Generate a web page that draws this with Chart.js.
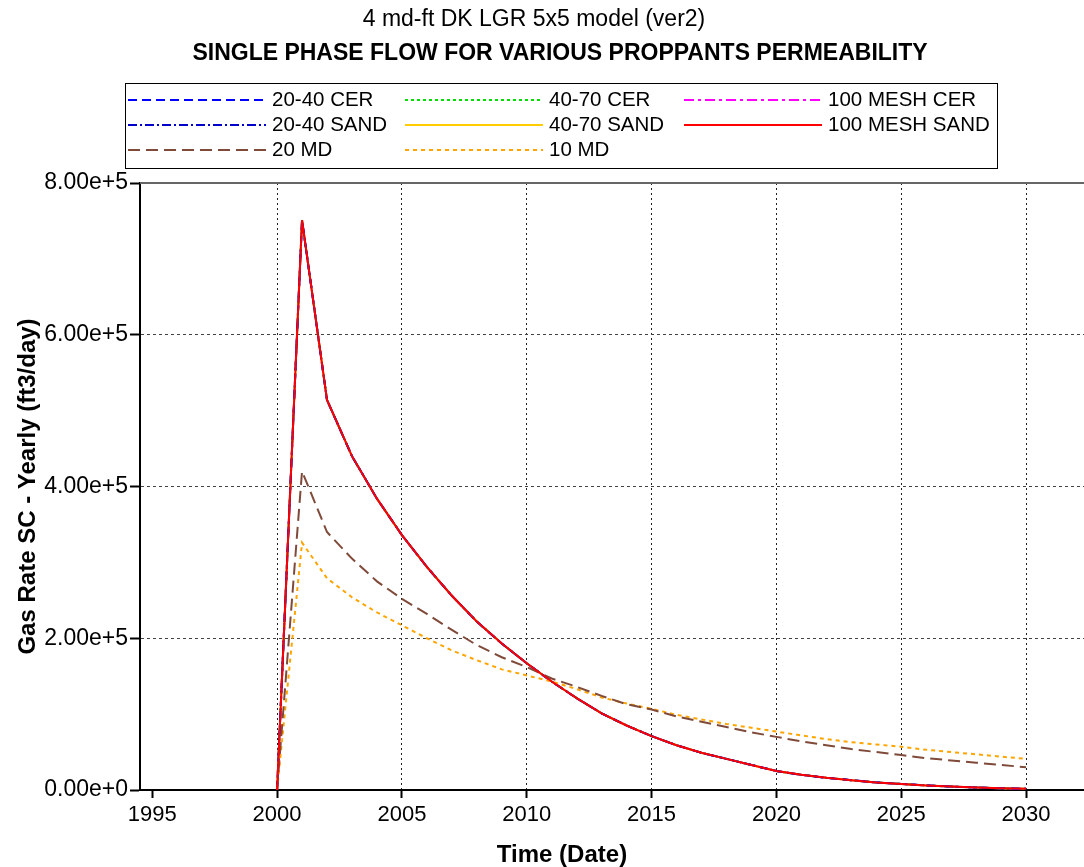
<!DOCTYPE html>
<html>
<head>
<meta charset="utf-8">
<title>Single phase flow - gas rate</title>
<script src="https://cdn.jsdelivr.net/npm/chart.js@4.4.1/dist/chart.umd.min.js"></script>
<style>
    html, body { margin: 0; padding: 0; background: #fff; }
    #wrap { width: 1084px; height: 867px; }
</style>
</head>
<body>
<div id="wrap"><canvas id="rateChart" width="1084" height="867"></canvas></div>
<script>
// Yearly gas rate (ft3/day), one value per year
const years = [2000, 2001, 2002, 2003, 2004, 2005, 2006, 2007, 2008, 2009, 2010,
    2011, 2012, 2013, 2014, 2015, 2016, 2017, 2018, 2019, 2020,
    2021, 2022, 2023, 2024, 2025, 2026, 2027, 2028, 2029, 2030];

// all six proppant cases come out practically identical
const proppantRate = [0, 751000, 514000, 440000, 384000, 336000, 294000, 256000, 222000, 193000, 167000,
    143000, 121000, 101000, 85000, 71000, 59000, 49000, 41000, 33000, 25000,
    20000, 16000, 13000, 10000, 8000, 6000, 4500, 3300, 2300, 1500];

const rate20md = [0, 420000, 340000, 305000, 275000, 252000, 232000, 211000, 191000, 175000, 162000,
    147000, 136000, 124000, 113000, 106000, 97000, 90000, 83000, 76000, 70000,
    64000, 59000, 54000, 50000, 46000, 42000, 39000, 36000, 33000, 30000];

const rate10md = [0, 326000, 279000, 254000, 234000, 217000, 200000, 184000, 171000, 159000, 151000,
    143000, 133000, 122000, 114000, 107000, 99000, 93000, 87000, 82000, 77000,
    72000, 67000, 63000, 60000, 57000, 53000, 50000, 47000, 44000, 41000];

const xTicks = [1995, 2000, 2005, 2010, 2015, 2020, 2025, 2030];
const yTicks = [0, 200000, 400000, 600000, 800000];

const FONT = '"Liberation Sans", Arial, sans-serif';

const series = [
    { label: '20-40 CER', data: proppantRate, color: '#0000ff', dash: [9, 5], order: 2 },
    { label: '20-40 SAND', data: proppantRate, color: '#0000c8', dash: [9, 3, 2, 3], order: 2 },
    { label: '40-70 CER', data: proppantRate, color: '#00e000', dash: [3, 3], order: 2 },
    { label: '40-70 SAND', data: proppantRate, color: '#ffcc00', dash: [], order: 2 },
    { label: '100 MESH CER', data: proppantRate, color: '#ff00ff', dash: [10, 4, 3, 4], order: 2 },
    { label: '100 MESH SAND', data: proppantRate, color: '#ff0000', dash: [], order: 0 },
    { label: '20 MD', data: rate20md, color: '#7f4a3a', dash: [12, 6], order: 1 },
    { label: '10 MD', data: rate10md, color: '#ffa500', dash: [4, 4], order: 1 }
];

// legend grid: [column, row] for each series above
const legendSlots = [[0, 0], [0, 1], [1, 0], [1, 1], [2, 0], [2, 1], [0, 2], [1, 2]];

const datasets = series.map(s => ({
    label: s.label,
    data: years.map((yr, i) => ({ x: yr, y: s.data[i] })),
    borderColor: s.color,
    backgroundColor: s.color,
    borderDash: s.dash,
    borderWidth: 2,
    pointRadius: 0,
    tension: 0,
    fill: false,
    order: s.order
}));

// titles, legend box, frame line and x-axis title
const decorations = {
    id: 'decorations',
    afterDraw(chart) {
        const ctx = chart.ctx;
        const area = chart.chartArea;
        ctx.save();

        // upper frame line
        ctx.strokeStyle = '#666';
        ctx.lineWidth = 2;
        ctx.setLineDash([]);
        ctx.beginPath();
        ctx.moveTo(area.left, area.top);
        ctx.lineTo(area.right, area.top);
        ctx.stroke();

        ctx.fillStyle = '#000';
        ctx.textAlign = 'center';
        ctx.textBaseline = 'middle';
        ctx.font = '23px ' + FONT;
        ctx.fillText('4 md-ft DK LGR 5x5 model (ver2)', 534, 20);
        ctx.font = 'bold 23px ' + FONT;
        ctx.fillText('SINGLE PHASE FLOW FOR VARIOUS PROPPANTS PERMEABILITY', 560, 54);

        ctx.font = 'bold 24px ' + FONT;
        ctx.fillText('Time (Date)', 562, 855);

        // legend
        ctx.lineWidth = 1;
        ctx.strokeStyle = '#000';
        ctx.strokeRect(125.5, 83.5, 872, 85);

        const colX = [128, 405, 684];
        const rowY = [100, 125, 150];
        ctx.textAlign = 'left';
        ctx.font = '20.5px ' + FONT;
        chart.data.datasets.forEach((ds, i) => {
            const [c, r] = legendSlots[i];
            const x = colX[c], y = rowY[r];
            ctx.strokeStyle = ds.borderColor;
            ctx.lineWidth = 2;
            ctx.setLineDash(ds.borderDash);
            ctx.beginPath();
            ctx.moveTo(x, y);
            ctx.lineTo(x + 138, y);
            ctx.stroke();
            ctx.setLineDash([]);
            ctx.fillStyle = '#000';
            ctx.fillText(ds.label, x + 144, y);
        });

        ctx.restore();
    }
};

new Chart(document.getElementById('rateChart').getContext('2d'), {
    type: 'line',
    data: { datasets: datasets },
    plugins: [decorations],
    options: {
        responsive: false,
        animation: false,
        layout: { padding: { top: 183, left: 0, right: 0, bottom: 0 } },
        plugins: {
            legend: { display: false },
            title: { display: false },
            tooltip: { enabled: false }
        },
        scales: {
            x: {
                type: 'linear',
                min: 1994.51,
                max: 2032.32,
                afterFit: scale => { scale.height = 77; },
                afterBuildTicks: scale => { scale.ticks = xTicks.map(v => ({ value: v })); },
                border: { color: '#000', width: 2, dash: [2, 3] },
                grid: {
                    color: c => (c.tick && c.tick.value >= 2000) ? '#222' : 'rgba(0,0,0,0)',
                    lineWidth: 1,
                    tickLength: 8,
                    tickColor: '#000',
                    tickWidth: 2,
                    tickBorderDash: []
                },
                ticks: {
                    color: '#000',
                    font: { family: FONT, size: 22 },
                    padding: 4,
                    maxRotation: 0,
                    autoSkip: false,
                    callback: v => String(v)
                }
            },
            y: {
                min: 0,
                max: 800000,
                afterFit: scale => { scale.width = 140; },
                afterBuildTicks: scale => { scale.ticks = yTicks.map(v => ({ value: v })); },
                border: { color: '#000', width: 2, dash: [3, 3] },
                grid: {
                    color: c => (c.tick && c.tick.value > 0 && c.tick.value < 800000) ? '#444' : 'rgba(0,0,0,0)',
                    lineWidth: 1,
                    tickLength: 10,
                    tickColor: '#000',
                    tickWidth: 2,
                    tickBorderDash: []
                },
                ticks: {
                    color: '#000',
                    font: { family: FONT, size: 23 },
                    padding: 2,
                    callback: v => v.toExponential(2)
                },
                title: {
                    display: true,
                    text: 'Gas Rate SC - Yearly (ft3/day)',
                    color: '#000',
                    font: { family: FONT, size: 24, weight: 'bold' },
                    padding: { top: 14, bottom: 0 }
                }
            }
        }
    }
});
</script>
</body>
</html>
